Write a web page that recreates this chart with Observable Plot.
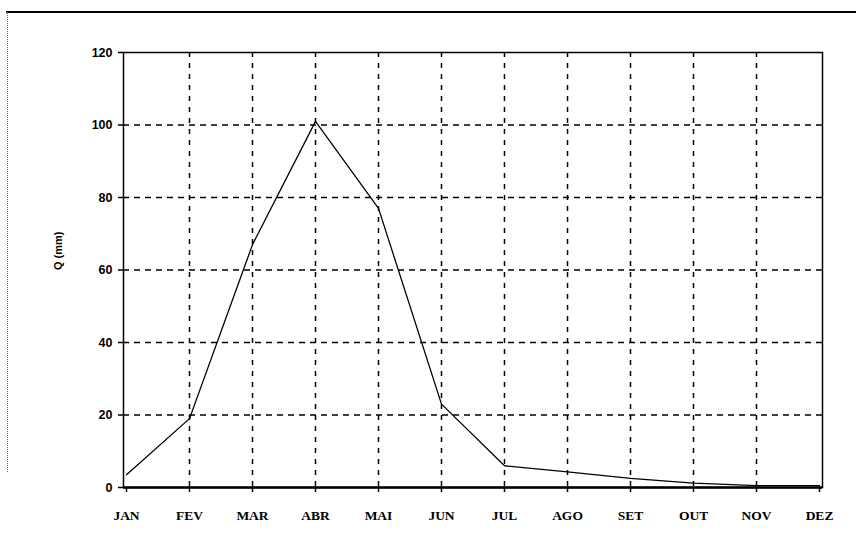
<!DOCTYPE html>
<html><head><meta charset="utf-8">
<script src="https://cdn.jsdelivr.net/npm/d3@7"></script>
<script src="https://cdn.jsdelivr.net/npm/@observablehq/plot@0.6"></script>
<style>
body{margin:0;background:#fff;}
#wrap{position:relative;width:856px;height:548px;}
#topline{position:absolute;left:6px;top:11px;width:850px;height:0;border-top:2px solid #000;}
#leftline{position:absolute;left:7px;top:12px;height:460px;width:0;border-left:1px dotted #666;}
</style></head>
<body><div id="wrap"><div id="topline"></div><div id="leftline"></div><div id="chart"></div></div>
<script>
const months = ["JAN","FEV","MAR","ABR","MAI","JUN","JUL","AGO","SET","OUT","NOV","DEZ"];
const q = [3.5, 19, 67, 101, 77, 23, 6, 4.3, 2.5, 1.2, 0.5, 0.5];
const yTicks = [0, 20, 40, 60, 80, 100, 120];
const innerMonths = months.slice(1, 11);
const innerY = [20, 40, 60, 80, 100];

const data = months.map((m, i) => ({m, q: q[i]}));
const chart = Plot.plot({
  width: 856, height: 548,
  marginLeft: 123, marginRight: 34, marginTop: 52, marginBottom: 61,
  style: {fontFamily: "'Liberation Sans', Arial, sans-serif", background: "transparent"},
  x: {type: "point", domain: months, padding: 0},
  y: {domain: [0, 120], ticks: yTicks},
  marks: [
    Plot.ruleX(innerMonths, {stroke: "#000", strokeWidth: 1.5, strokeDasharray: "5,6"}),
    Plot.ruleY(innerY, {stroke: "#000", strokeWidth: 1.5, strokeDasharray: "6,5"}),
    Plot.frame({stroke: "#000", strokeWidth: 1.5}),
    Plot.ruleY([0], {stroke: "#000", strokeWidth: 2.5}),
    Plot.axisY({ticks: yTicks, tickSize: 5, tickPadding: 6, label: null, strokeWidth: 1.5,
      fontWeight: "bold", fontSize: 12.5, fontFamily: "'Liberation Sans', Arial, sans-serif"}),
    Plot.axisX({tickSize: 5, tickPadding: 18, label: null, strokeWidth: 1.5,
      fontWeight: "bold", fontSize: 13.5, fontFamily: "'Liberation Serif', 'Times New Roman', serif"}),
    Plot.line(data, {x: "m", y: "q", stroke: "#000", strokeWidth: 1.3}),
    Plot.text(["Q (mm)"], {frameAnchor: "left", dx: -65, rotate: -90, fontSize: 11, fontWeight: "bold", fill: "#000"})
  ]
});
document.getElementById("chart").appendChild(chart);
</script></body></html>
